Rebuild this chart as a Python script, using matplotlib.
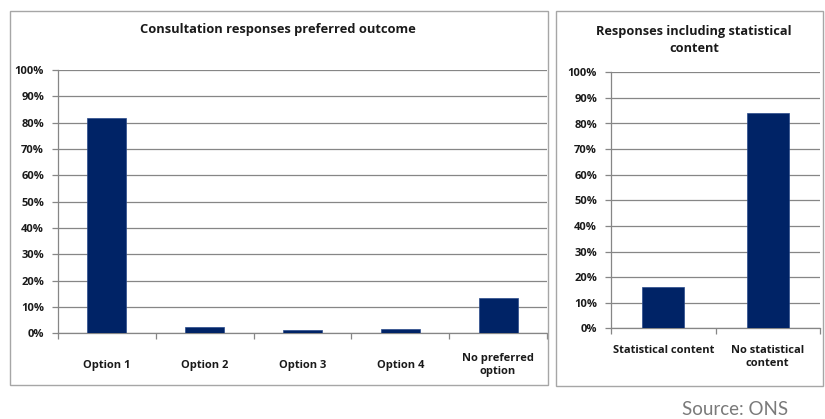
import matplotlib.pyplot as plt
from matplotlib.patches import Rectangle
from matplotlib.ticker import FuncFormatter, FixedLocator

# Data (percent)
outcome_labels = ["Option 1", "Option 2", "Option 3", "Option 4", "No preferred\noption"]
outcome_values = [81.6, 2.4, 1.1, 1.7, 13.3]

content_labels = ["Statistical content", "No statistical\ncontent"]
content_values = [16.0, 84.1]

BAR = "#002366"
GRID = "#868686"
FRAME = "#a6a6a6"
TEXT = "#1a1a1a"

plt.rcParams["font.family"] = ["Open Sans", "DejaVu Sans"]
plt.rcParams["font.weight"] = "bold"

W, H = 825, 419
fig = plt.figure(figsize=(W / 100, H / 100), dpi=100)


def px_axes(x0, x1, y_top, y_bot):
    return fig.add_axes([x0 / W, 1 - y_bot / H, (x1 - x0) / W, (y_bot - y_top) / H])


def frame(x0, x1, y0, y1):
    fig.patches.append(
        Rectangle((x0 / W, 1 - y1 / H), (x1 - x0) / W, (y1 - y0) / H,
                  transform=fig.transFigure, fill=False, edgecolor=FRAME, lw=1.0)
    )


def style_axes(ax, labels, values, label_pad, label_va):
    n = len(labels)
    ax.bar(range(n), values, width=0.4, color=BAR, edgecolor="#2a4a8a", lw=0.5, zorder=3)
    ax.set_xlim(-0.5, n - 0.5)
    ax.set_ylim(0, 100)
    ax.set_yticks(range(0, 101, 10))
    ax.yaxis.set_major_formatter(FuncFormatter(lambda v, _: f"{v:.0f}%"))
    ax.grid(axis="y", color=GRID, lw=0.9, zorder=0)
    ax.set_xticks(range(n))
    ax.set_xticklabels(labels, fontsize=8, fontweight="bold", color=TEXT,
                       linespacing=1.3, va=label_va)
    ax.xaxis.set_minor_locator(FixedLocator([i - 0.5 for i in range(n + 1)]))
    ax.tick_params(axis="x", which="major", length=0, pad=label_pad)
    ax.tick_params(axis="x", which="minor", length=4, color=GRID, width=0.9)
    ax.tick_params(axis="y", length=4, color=GRID, width=0.9, pad=6,
                   labelsize=8, labelcolor=TEXT)
    for s in ("top", "right"):
        ax.spines[s].set_visible(False)
    for s in ("left", "bottom"):
        ax.spines[s].set_color(GRID)
        ax.spines[s].set_linewidth(0.9)


# Left panel
frame(10, 548, 11, 385)
ax1 = px_axes(58, 547, 70, 333.3)
style_axes(ax1, outcome_labels, outcome_values, 23, "center")
fig.text(278 / W, 1 - 30 / H, "Consultation responses preferred outcome",
         ha="center", va="center", fontsize=9.3, fontweight="bold", color=TEXT)

# Right panel
frame(556, 823, 11, 386)
ax2 = px_axes(611, 820, 72.3, 328.3)
style_axes(ax2, content_labels, content_values, 12, "top")
fig.text(694 / W, 1 - 39.5 / H, "Responses including statistical\ncontent",
         ha="center", va="center", fontsize=9.2, fontweight="bold", color=TEXT,
         linespacing=1.4)

fig.text(735 / W, 1 / H, "Source: ONS", ha="center", va="bottom",
         fontsize=13.5, fontweight="normal", family="Lato", color="#7a7a7a")

fig.savefig("out.png", dpi=100)
